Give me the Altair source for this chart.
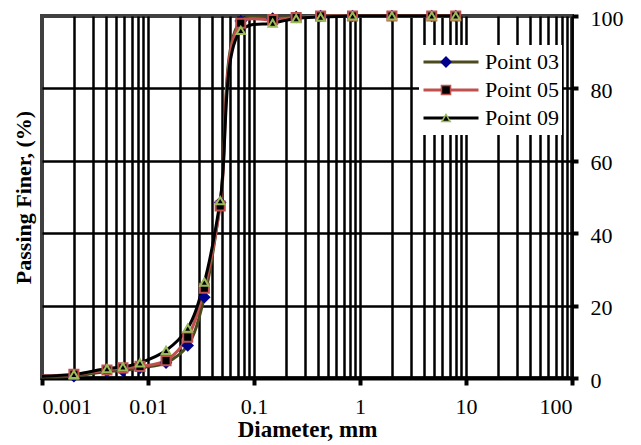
import altair as alt
import pandas as pd

series = ["Point 03", "Point 05", "Point 09"]
diameter = [0.002, 0.0041, 0.0058, 0.0084, 0.0148, 0.0237, 0.034, 0.048,
            0.075, 0.15, 0.25, 0.425, 0.85, 2.0, 4.75, 8.0]
p03 = [0.5, 1.8, 2.0, 2.8, 4.2, 9.0, 22.3, 48.5, 98.6, 99.3, 99.7, 100, 100, 100, 100, 100]
p05 = [1.0, 2.2, 2.8, 3.2, 4.8, 11.3, 24.8, 47.5, 98.0, 99.0, 99.6, 100, 100, 100, 100, 100]
p09 = [1.0, 2.6, 3.1, 4.2, 7.6, 13.8, 26.5, 49.0, 96.0, 98.0, 99.3, 99.7, 100, 100, 100, 100]
start_diameter = 0.001
start_pct = [0.3, 0.6, 0.5]

x_decades = [0.001, 0.01, 0.1, 1, 10, 100]
x_grid = [m * 10.0 ** e for e in range(-3, 2) for m in range(1, 10)][1:]
y_ticks = [0, 20, 40, 60, 80, 100]
y_grid = [20, 40, 60, 80]

line_colors = ["#4B4B1E", "#C0504D", "#000000"]
marker_fill = ["#00008B", "#000000", "#000000"]
marker_stroke = ["#00008B", "#C0504D", "#9BBB59"]
marker_shape = ["diamond", "square", "triangle-up"]
marker_size = [95, 70, 190]

values = [p03, p05, p09]
pts_rows = []
line_rows = []
for s, vals, sp in zip(series, values, start_pct):
    line_rows.append({"series": s, "diam": start_diameter, "pct": sp})
    for d, v in zip(diameter, vals):
        pts_rows.append({"series": s, "diam": d, "pct": v})
        line_rows.append({"series": s, "diam": d, "pct": v})
df_pts = pd.DataFrame(pts_rows)
df_lines = pd.DataFrame(line_rows)

FONT = "Liberation Serif"
xscale = alt.Scale(type="log", domain=[0.001, 100], nice=False)
yscale = alt.Scale(domain=[0, 100], nice=False, zero=True)

marker_legend = alt.Legend(orient="none", legendX=377, legendY=29, title=None,
                           symbolStrokeWidth=1.5, symbolOffset=13, clipHeight=28,
                           rowPadding=0, labelFontSize=22, labelExpr="''",
                           labelOffset=0, padding=3)

lines = alt.Chart(df_lines).mark_line(strokeWidth=3, interpolate="catmull-rom").encode(
    x=alt.X("diam:Q", scale=xscale, title=None,
            axis=alt.Axis(orient="top", values=x_grid, grid=True, gridColor="black",
                          gridWidth=2.5, gridOpacity=1, labels=False, ticks=False,
                          domain=False)),
    y=alt.Y("pct:Q", scale=yscale, title="Passing Finer, (%)",
            axis=alt.Axis(orient="left", values=y_grid, grid=True, gridColor="black",
                          gridWidth=2.5, gridOpacity=1, labels=False, ticks=False,
                          domain=False, titleFont=FONT, titleFontSize=22,
                          titleFontWeight="bold", titleColor="black", titlePadding=7)),
    color=alt.Color("series:N",
                    scale=alt.Scale(domain=series, range=line_colors),
                    legend=alt.Legend(orient="none", legendX=377, legendY=29, title=None,
                                      symbolType="stroke", symbolSize=3025,
                                      symbolStrokeWidth=3, clipHeight=28, rowPadding=0,
                                      labelFont=FONT, labelFontSize=22, labelColor="black",
                                      labelOffset=5, fillColor="white", padding=3)),
    order=alt.Order("diam:Q"),
)

points = alt.Chart(df_pts).mark_point(filled=True, strokeWidth=2, opacity=1).encode(
    x=alt.X("diam:Q", scale=xscale, title="Diameter, mm",
            axis=alt.Axis(orient="bottom", values=x_decades, format="~g", grid=False,
                          tickColor="black", tickWidth=4, tickSize=7, domainColor="black",
                          domainWidth=4, labelFont=FONT, labelFontSize=22,
                          labelColor="black", labelPadding=11, titleFont=FONT,
                          titleFontSize=23, titleFontWeight="bold", titleColor="black",
                          titlePadding=1)),
    y=alt.Y("pct:Q", scale=yscale, title=None,
            axis=alt.Axis(orient="right", values=y_ticks, grid=False, tickColor="black",
                          tickWidth=4, tickSize=6, domainColor="black", domainWidth=2.5,
                          labelFont=FONT, labelFontSize=22, labelColor="black",
                          labelPadding=12, labelOffset=2)),
    fill=alt.Fill("series:N", scale=alt.Scale(range=marker_fill), legend=marker_legend),
    stroke=alt.Stroke("series:N", scale=alt.Scale(range=marker_stroke), legend=marker_legend),
    size=alt.Size("series:N", scale=alt.Scale(range=marker_size), legend=marker_legend),
    shape=alt.Shape("series:N", scale=alt.Scale(range=marker_shape), legend=marker_legend),
)

chart = alt.layer(lines, points).resolve_axis(x="independent", y="independent").properties(
    width=530, height=362,
    autosize=alt.AutoSizeParams(type="none"),
    padding={"left": 34, "top": 8, "right": 55, "bottom": 66},
).configure_view(stroke="#404040", strokeWidth=4)

chart.save("out.html", embed_options={"renderer": "svg", "actions": False})
